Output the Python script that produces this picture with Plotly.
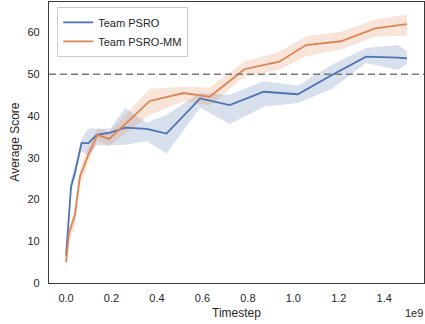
import plotly.graph_objects as go

# Data (timestep in units of 1e9)
psro_t = [0, 0.022, 0.037, 0.068, 0.098, 0.135, 0.195, 0.26, 0.355, 0.442,
          0.59, 0.72, 0.87, 1.02, 1.17, 1.32, 1.46, 1.50]
psro_mean = [6.5, 23.1, 25.9, 33.5, 33.5, 35.5, 36.0, 37.2, 36.9, 35.8,
             44.2, 42.6, 45.8, 45.2, 49.8, 54.2, 54.0, 53.8]
psro_low = [6.0, 22.0, 25.0, 31.5, 30.5, 33.0, 33.0, 33.1, 34.0, 31.0,
            42.0, 38.1, 42.2, 43.1, 46.5, 52.7, 51.0, 52.5]
psro_high = [7.0, 25.0, 27.5, 34.5, 37.0, 37.0, 37.0, 41.9, 38.3, 40.3,
             45.5, 45.1, 48.3, 47.3, 52.3, 56.3, 57.0, 55.5]

mm_t = [0, 0.013, 0.039, 0.061, 0.098, 0.138, 0.19, 0.369, 0.518, 0.632,
        0.785, 0.938, 1.056, 1.209, 1.36, 1.50]
mm_mean = [5.0, 11.9, 16.3, 25.5, 30.7, 35.5, 34.5, 43.6, 45.5, 44.6,
           51.2, 53.0, 57.0, 57.9, 61.0, 62.0]
mm_low = [3.0, 10.0, 13.5, 23.0, 29.0, 34.0, 32.8, 40.3, 43.5, 42.5,
          49.4, 51.1, 54.3, 55.9, 59.0, 59.3]
mm_high = [6.0, 13.0, 18.0, 27.0, 32.5, 37.0, 36.2, 46.5, 47.0, 46.8,
           53.1, 55.3, 59.1, 60.2, 63.1, 64.3]

threshold = 50
x_ticks = [0.0, 0.2, 0.4, 0.6, 0.8, 1.0, 1.2, 1.4]
y_ticks = [0, 10, 20, 30, 40, 50, 60]

SCALE = 1e9
blue = "#4C72B0"
orange = "#DD8452"


def band(t, lo, hi, color):
    xs = [v * SCALE for v in t] + [v * SCALE for v in t[::-1]]
    ys = list(hi) + list(lo[::-1])
    return go.Scatter(x=xs, y=ys, fill="toself", fillcolor=color,
                      line=dict(width=0), mode="lines", hoverinfo="skip",
                      showlegend=False)


fig = go.Figure()
fig.add_trace(band(psro_t, psro_low, psro_high, "rgba(76,114,176,0.22)"))
fig.add_trace(band(mm_t, mm_low, mm_high, "rgba(221,132,82,0.22)"))
fig.add_trace(go.Scatter(x=[v * SCALE for v in psro_t], y=psro_mean, mode="lines",
                         name="Team PSRO", line=dict(color=blue, width=1.8)))
fig.add_trace(go.Scatter(x=[v * SCALE for v in mm_t], y=mm_mean, mode="lines",
                         name="Team PSRO-MM", line=dict(color=orange, width=1.8)))

fig.add_shape(type="line", xref="paper", x0=0, x1=1, yref="y", y0=threshold, y1=threshold,
              line=dict(color="#7a7a7a", width=1.5, dash="7px,4px"), layer="above")

font = "Liberation Sans, Arial, sans-serif"
fig.update_layout(
    width=425, height=324,
    margin=dict(l=49, r=1, t=2, b=41),
    paper_bgcolor="white", plot_bgcolor="white",
    font=dict(family=font, size=11, color="#262626"),
    showlegend=True,
    legend=dict(x=0.022, y=0.983, xanchor="left", yanchor="top",
                bordercolor="#cccccc", borderwidth=1, bgcolor="rgba(255,255,255,0.8)",
                font=dict(size=11, color="#262626"), tracegroupgap=0,
                itemwidth=30),
    xaxis=dict(range=[-0.075 * SCALE, 1.575 * SCALE],
               tickvals=[v * SCALE for v in x_ticks],
               ticktext=[f"{v:.1f}" for v in x_ticks],
               showgrid=False, zeroline=False, showline=True, mirror=True,
               linecolor="#3a3a3a", linewidth=1.25,
               ticks="outside", ticklen=5, tickcolor="rgba(0,0,0,0)"),
    yaxis=dict(range=[0, 67.3], tickvals=y_ticks,
               showgrid=False, zeroline=False, showline=True, mirror=True,
               linecolor="#3a3a3a", linewidth=1.25,
               ticks="outside", ticklen=6, tickcolor="rgba(0,0,0,0)"),
    annotations=[
        dict(text="Timestep", xref="paper", yref="paper", x=0.5, y=-0.107,
             xanchor="center", yanchor="middle", showarrow=False,
             font=dict(size=12, color="#262626")),
        dict(text="Average Score", xref="paper", yref="paper", x=-0.093, y=0.5,
             xanchor="center", yanchor="middle", textangle=-90, showarrow=False,
             font=dict(size=12, color="#262626")),
        dict(text="1e9", xref="paper", yref="paper", x=1.003, y=-0.107,
             xanchor="right", yanchor="middle", showarrow=False,
             font=dict(size=11, color="#262626")),
    ],
)

fig.write_html("out.html", config={"displayModeBar": False},
               post_script="document.body.style.margin='0';document.body.style.overflow='hidden';")
